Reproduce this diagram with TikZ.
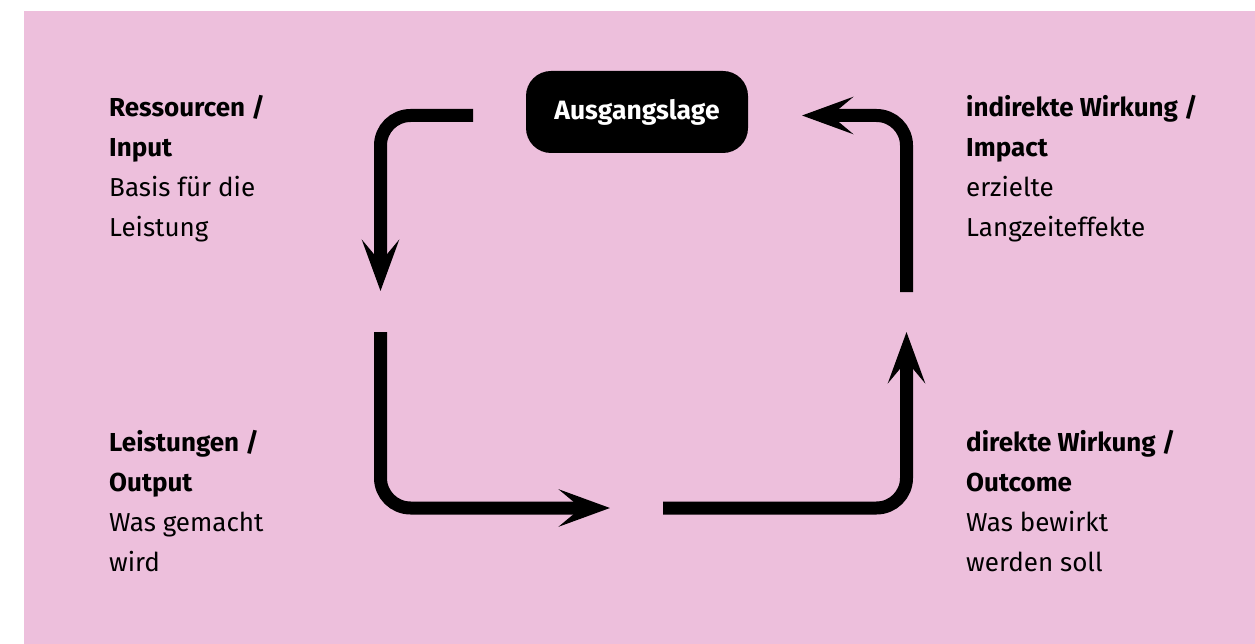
\documentclass[tikz,border=0pt]{standalone}
\usepackage{fontspec}
\setmainfont{Fira Sans}
\usetikzlibrary{arrows.meta}
\definecolor{bgpink}{RGB}{237,191,220}
\tikzset{
  flow/.style={line width=13pt, -{Stealth[length=51pt,width=37pt,inset=22pt]}, rounded corners=30pt},
  lbl/.style={anchor=base west, inner sep=0pt, align=left, font=\fontsize{26}{40}\selectfont},
  startbox/.style={fill=black, text=white, rounded corners=25pt, minimum width=222pt, minimum height=82pt, inner sep=0pt, font=\fontsize{26.5}{30}\selectfont\bfseries}
}
\begin{document}
\begin{tikzpicture}[x=1pt,y=-1pt]
\useasboundingbox (0,0) rectangle (1255,644);
\fill[white] (0,0) rectangle (1255,644);
\fill[bgpink] (24,11) rectangle (1255,644);
\node[startbox] (start) at (637,112) {Ausgangslage};
% anchor base = baseline of the last line
\node[lbl] (input) at (109,237) {\textbf{Ressourcen /}\\\textbf{Input}\\Basis für die\\Leistung};
\node[lbl] (impact) at (966,237) {\textbf{indirekte Wirkung /}\\\textbf{Impact}\\erzielte\\Langzeiteffekte};
\node[lbl] (output) at (109,571) {\textbf{Leistungen /}\\\textbf{Output}\\Was gemacht\\wird};
\node[lbl] (outcome) at (966,571) {\textbf{direkte Wirkung /}\\\textbf{Outcome}\\Was bewirkt\\werden soll};
\coordinate (a1s) at (473,115.5);
\coordinate (a1c) at (380.5,115.5);
\coordinate (a1e) at (380.5,291);
\coordinate (a2s) at (380.5,332);
\coordinate (a2c) at (380.5,508);
\coordinate (a2e) at (610,508);
\coordinate (a3s) at (663,508);
\coordinate (a3c) at (906.5,508);
\coordinate (a3e) at (906.5,332);
\coordinate (a4s) at (906.5,292);
\coordinate (a4c) at (906.5,115.5);
\coordinate (a4e) at (802,115.5);
\draw[flow] (a1s) -- (a1c) -- (a1e);
\draw[flow] (a2s) -- (a2c) -- (a2e);
\draw[flow] (a3s) -- (a3c) -- (a3e);
\draw[flow] (a4s) -- (a4c) -- (a4e);
\end{tikzpicture}
\end{document}
